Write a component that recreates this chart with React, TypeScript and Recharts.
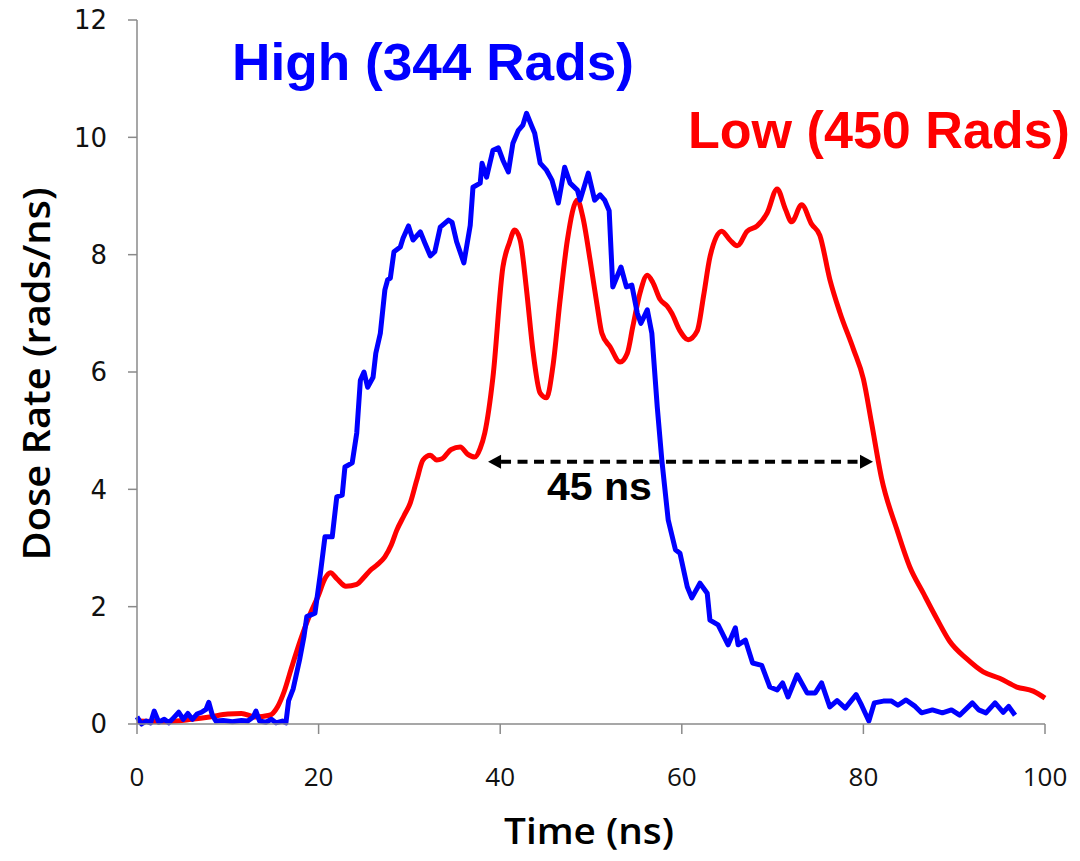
import React from 'react'
import { LineChart, Line, XAxis, YAxis, ReferenceLine, ReferenceDot } from 'recharts'

// High (344 Rads) trace
const highTime = [0, 0.5, 1, 1.5, 1.9, 2.4, 3, 3.5, 4, 4.6, 5.1, 5.6, 6.1, 6.6, 7.1, 7.6, 7.9, 8.3, 8.7, 9.5, 10.5, 11.5, 12.2, 12.8, 13.1, 13.5, 14.2, 14.8, 15.3, 16, 16.4, 16.7, 17.2, 17.9, 18.4, 18.7, 19.6, 20.2, 20.7, 21.5, 22.0, 22.6, 22.9, 23.7, 24.2, 24.6, 25.0, 25.4, 26.0, 26.3, 26.8, 27.3, 27.6, 27.9, 28.3, 29.0, 29.3, 29.9, 30.4, 31.2, 31.7, 32.3, 32.8, 33.4, 34.3, 34.7, 35.2, 36.0, 36.7, 37.0, 37.8, 38.0, 38.5, 39.2, 39.8, 40.3, 40.9, 41.4, 42.0, 42.5, 42.9, 43.5, 43.8, 44.4, 45.1, 45.7, 46.4, 47.1, 47.7, 48.5, 48.8, 49.7, 50.4, 51.0, 51.5, 52.0, 52.4, 53.3, 53.9, 54.5, 55.1, 55.5, 56.2, 56.7, 57.3, 57.8, 58.5, 59.3, 59.8, 60.6, 61.1, 62.0, 62.8, 63.1, 64.0, 65.1, 65.9, 66.2, 67.0, 67.8, 68.8, 69.7, 70.5, 71.1, 71.7, 72.7, 73.8, 74.7, 75.4, 76.3, 77.1, 78.0, 79.2, 79.8, 80.6, 81.2, 82.2, 83.1, 83.8, 84.7, 85.7, 86.4, 87.6, 88.7, 89.7, 90.6, 92.0, 92.7, 93.5, 94.5, 95.4, 96.0, 96.7]
const highRate = [0.12, 0.0, 0.05, 0.02, 0.22, 0.03, 0.08, 0.02, 0.1, 0.2, 0.08, 0.18, 0.08, 0.17, 0.2, 0.25, 0.37, 0.15, 0.05, 0.06, 0.04, 0.06, 0.05, 0.12, 0.22, 0.05, 0.03, 0.08, 0.02, 0.05, 0.02, 0.4, 0.6, 1.09, 1.5, 1.83, 1.89, 2.57, 3.19, 3.19, 3.87, 3.9, 4.38, 4.45, 4.96, 5.86, 6.0, 5.74, 5.91, 6.32, 6.66, 7.4, 7.57, 7.6, 8.05, 8.13, 8.28, 8.49, 8.25, 8.39, 8.2, 7.98, 8.05, 8.47, 8.59, 8.55, 8.22, 7.86, 8.5, 9.15, 9.22, 9.56, 9.32, 9.78, 9.82, 9.61, 9.41, 9.9, 10.12, 10.21, 10.41, 10.18, 10.07, 9.56, 9.44, 9.27, 8.88, 9.49, 9.22, 9.1, 8.93, 9.39, 8.93, 9.02, 8.93, 8.75, 7.45, 7.79, 7.45, 7.48, 7.0, 6.83, 7.06, 6.66, 5.4, 4.5, 3.48, 2.97, 2.91, 2.34, 2.15, 2.4, 2.23, 1.77, 1.69, 1.35, 1.64, 1.35, 1.43, 1.04, 1.0, 0.63, 0.58, 0.7, 0.46, 0.84, 0.53, 0.53, 0.7, 0.29, 0.4, 0.27, 0.5, 0.32, 0.05, 0.36, 0.39, 0.39, 0.32, 0.41, 0.3, 0.19, 0.24, 0.19, 0.24, 0.15, 0.36, 0.24, 0.19, 0.36, 0.2, 0.3, 0.15]

// Low (450 Rads) trace
const lowTime = [0, 3, 6, 8, 10, 11.5, 13, 14.6, 15.5, 16.2, 17, 18, 19, 20, 20.7, 21.3, 22, 23, 24.2, 25, 25.7, 26.5, 27.3, 28, 28.6, 29.4, 30.1, 30.8, 31.5, 32.3, 33, 33.6, 34.6, 35.6, 36.4, 37.2, 37.8, 38.3, 39.2, 40.3, 41, 41.6, 42.2, 42.9, 43.6, 44.4, 45.1, 45.8, 46.6, 47.4, 48.5, 49.1, 49.9, 50.7, 51.2, 52.1, 53.2, 54.0, 54.6, 55.4, 56.2, 56.8, 57.6, 58.4, 58.9, 59.8, 60.7, 61.7, 62.4, 63.1, 64.4, 65.3, 66.1, 67.2, 68.3, 69.4, 70.5, 71.4, 72.1, 73.2, 74.3, 75.2, 76.3, 77.4, 78.9, 80.0, 80.9, 82.0, 83.7, 85.1, 86.6, 88.1, 89.5, 91.4, 93.2, 95.0, 96.9, 98.7, 100]
const lowRate = [0.05, 0.04, 0.08, 0.12, 0.17, 0.18, 0.12, 0.15, 0.3, 0.55, 0.95, 1.43, 1.85, 2.2, 2.48, 2.58, 2.48, 2.35, 2.38, 2.5, 2.62, 2.72, 2.85, 3.05, 3.3, 3.55, 3.77, 4.15, 4.5, 4.58, 4.5, 4.52, 4.68, 4.72, 4.6, 4.55, 4.7, 4.96, 5.91, 7.79, 8.2, 8.42, 8.25, 7.4, 6.37, 5.64, 5.56, 6.09, 7.23, 8.25, 8.93, 8.64, 7.91, 7.11, 6.66, 6.43, 6.17, 6.32, 6.77, 7.35, 7.65, 7.53, 7.24, 7.12, 7.0, 6.7, 6.55, 6.7, 7.3, 7.96, 8.4, 8.25, 8.15, 8.4, 8.49, 8.71, 9.12, 8.78, 8.56, 8.85, 8.52, 8.33, 7.58, 7.02, 6.39, 5.88, 5.13, 4.19, 3.31, 2.68, 2.23, 1.79, 1.41, 1.11, 0.89, 0.78, 0.63, 0.56, 0.44]

const xTicks = [0, 20, 40, 60, 80, 100]
const yTicks = [0, 2, 4, 6, 8, 10, 12]

// FWHM arrow ends (ns, rads/ns)
const arrowFrom = [38.66, 4.47]
const arrowTo = [81.06, 4.47]

const highData = highTime.map((t, i) => ({ t, v: highRate[i] }))
const lowData = lowTime.map((t, i) => ({ t, v: lowRate[i] }))

const axisColor = '#8a8a8a'

function Arrow(props: any) {
  const { x1, y1, x2, y2 } = props
  const head = 13
  const half = 7
  return (
    <g>
      <line x1={x1 + head} y1={y1} x2={x2 - head} y2={y2} stroke="#000" strokeWidth={4} strokeDasharray="10 6.5" />
      <polygon points={`${x1},${y1} ${x1 + head},${y1 - half} ${x1 + head},${y1 + half}`} fill="#000" />
      <polygon points={`${x2},${y2} ${x2 - head},${y2 - half} ${x2 - head},${y2 + half}`} fill="#000" />
    </g>
  )
}

const note = (text: string, color: string, size: number, len: number) => (props: any) => (
  <text x={props.cx} y={props.cy} fill={color} fontSize={size} fontWeight="bold"
    fontFamily="'Liberation Sans', Arial, sans-serif" textAnchor="start"
    textLength={len} lengthAdjust="spacingAndGlyphs">
    {text}
  </text>
)

function YTitle(props: any) {
  const vb = props.viewBox
  const cx = vb.x + 50
  const cy = vb.y + vb.height / 2 + 2
  return (
    <text x={cx} y={cy} transform={`rotate(-90, ${cx}, ${cy})`} textAnchor="middle"
      fontFamily="'Open Sans', sans-serif" fontWeight={600} fontSize={37}
      textLength={373} lengthAdjust="spacingAndGlyphs" fill="#000">
      Dose Rate (rads/ns)
    </text>
  )
}

function XTitle(props: any) {
  const vb = props.viewBox
  const cx = vb.x + vb.width / 2 - 2
  return (
    <text x={cx} y={844} textAnchor="middle"
      fontFamily="'Open Sans', sans-serif" fontWeight={600} fontSize={36}
      textLength={170} lengthAdjust="spacingAndGlyphs" fill="#000">
      Time (ns)
    </text>
  )
}

export default function App() {
  return (
    <div style={{ position: 'absolute', left: 0, top: 0, background: '#fff' }}>
      <LineChart width={1080} height={861} margin={{ top: 20, right: 35, left: 0, bottom: 0 }}>
        <XAxis
          type="number"
          dataKey="t"
          domain={[0, 100]}
          ticks={xTicks}
          height={137}
          tickSize={10}
          tickMargin={34}
          stroke={axisColor}
          strokeWidth={1.5}
          tick={{ fontFamily: "'Open Sans', sans-serif", fontSize: 26, fill: '#111' }}
          label={{ content: XTitle }}
        />
        <YAxis
          type="number"
          domain={[0, 12]}
          ticks={yTicks}
          width={137}
          tickSize={9}
          tickMargin={21}
          stroke={axisColor}
          strokeWidth={1.5}
          tick={{ fontFamily: "'DejaVu Sans', sans-serif", fontSize: 26, fill: '#111' }}
          label={{ content: YTitle }}
        />
        <Line data={lowData} dataKey="v" type="monotone" stroke="#ff0000" strokeWidth={5}
          dot={false} activeDot={false} isAnimationActive={false} />
        <Line data={highData} dataKey="v" type="linear" stroke="#0000ff" strokeWidth={5}
          strokeLinejoin="round" dot={false} activeDot={false} isAnimationActive={false} />
        <ReferenceLine
          segment={[{ x: arrowFrom[0], y: arrowFrom[1] }, { x: arrowTo[0], y: arrowTo[1] }]}
          shape={Arrow}
          ifOverflow="visible"
        />
        <ReferenceDot x={10.46} y={10.98} r={0} ifOverflow="visible" shape={note('High (344 Rads)', '#0000ff', 52, 402)} />
        <ReferenceDot x={60.68} y={9.82} r={0} ifOverflow="visible" shape={note('Low (450 Rads)', '#ff0000', 52, 382)} />
        <ReferenceDot x={45.15} y={3.82} r={0} ifOverflow="visible" shape={note('45 ns', '#000', 39, 105)} />
      </LineChart>
    </div>
  )
}
